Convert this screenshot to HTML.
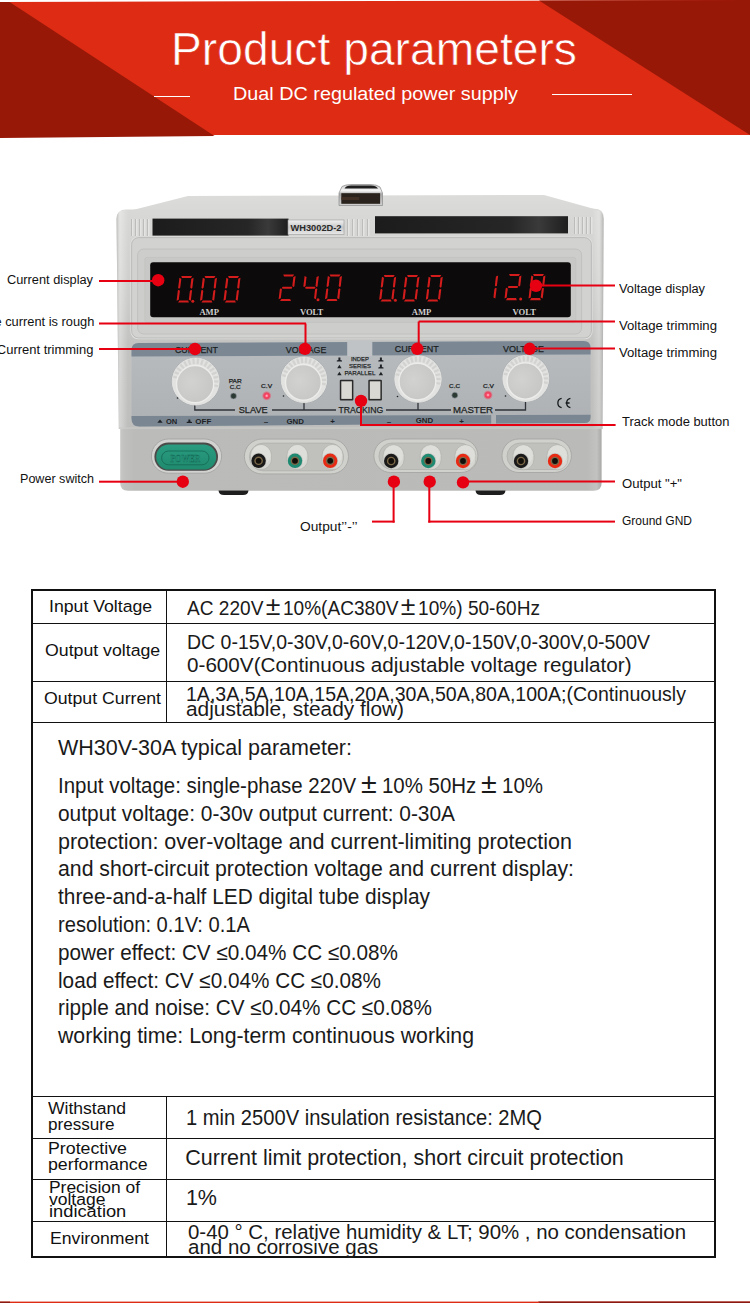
<!DOCTYPE html>
<html><head><meta charset="utf-8">
<style>
html,body{margin:0;padding:0;background:#fff;}
body{width:750px;height:1303px;position:relative;overflow:hidden;font-family:"Liberation Sans",sans-serif;color:#1a1a1a;}
.a{position:absolute;white-space:nowrap;}
.hl{position:absolute;background:#111;height:1px;}
.vl{position:absolute;background:#111;width:1px;}
</style></head>
<body>
<svg class="a" style="left:0;top:0" width="750" height="140" viewBox="0 0 750 140">
  <polygon points="0,2 750,0 750,135 0,135" fill="#dd2b14"/>
  <polygon points="0,2 9.6,2 214.5,136 0,138" fill="#981808"/>
  <polygon points="539,0.5 750,0 750,135" fill="#981808"/>
  <rect x="154" y="96" width="36" height="1" fill="#fff"/>
  <rect x="552" y="94" width="80" height="1" fill="#fff"/>
</svg>
<svg class="a" style="left:0;top:0" width="750" height="560" viewBox="0 0 750 560">
<defs>
  <linearGradient id="gBody" x1="0" y1="210" x2="0" y2="429" gradientUnits="userSpaceOnUse">
    <stop offset="0" stop-color="#d8d8d6"/><stop offset="0.4" stop-color="#cdcdcb"/><stop offset="0.6" stop-color="#c3c4c2"/><stop offset="1" stop-color="#bebfbd"/>
  </linearGradient>
  <linearGradient id="gEdgeL" x1="0" y1="0" x2="1" y2="0">
    <stop offset="0" stop-color="#a8a8a6" stop-opacity="0.6"/><stop offset="0.3" stop-color="#ffffff" stop-opacity="0.35"/><stop offset="1" stop-color="#ffffff" stop-opacity="0"/>
  </linearGradient>
  <linearGradient id="gEdgeR" x1="0" y1="0" x2="1" y2="0">
    <stop offset="0" stop-color="#ffffff" stop-opacity="0"/><stop offset="0.6" stop-color="#ffffff" stop-opacity="0.25"/><stop offset="1" stop-color="#909090" stop-opacity="0.5"/>
  </linearGradient>
  <linearGradient id="gLower" x1="0" y1="0" x2="1" y2="0">
    <stop offset="0" stop-color="#c8c8c6"/><stop offset="0.01" stop-color="#c0c1bf"/><stop offset="0.03" stop-color="#bbbcba"/>
    <stop offset="0.97" stop-color="#babbb9"/><stop offset="0.99" stop-color="#c2c3c1"/><stop offset="1" stop-color="#a8a8a6"/>
  </linearGradient>
  <linearGradient id="gTop" x1="0" y1="0" x2="0" y2="1">
    <stop offset="0" stop-color="#dcdcda"/><stop offset="1" stop-color="#d6d6d4"/>
  </linearGradient>
  <linearGradient id="gStrip" x1="0" y1="0" x2="1" y2="0">
    <stop offset="0" stop-color="#1c1c1c"/><stop offset="0.7" stop-color="#262626"/><stop offset="0.85" stop-color="#3a3a3a"/><stop offset="1" stop-color="#1e1e1e"/>
  </linearGradient>
  <linearGradient id="gLabel" x1="0" y1="0" x2="0" y2="1">
    <stop offset="0" stop-color="#f2f2f2"/><stop offset="0.5" stop-color="#c8c8c8"/><stop offset="1" stop-color="#e8e8e8"/>
  </linearGradient>
  <linearGradient id="gHandle" x1="0" y1="0" x2="0" y2="1">
    <stop offset="0" stop-color="#c8c8c8"/><stop offset="0.3" stop-color="#f6f6f6"/><stop offset="0.45" stop-color="#a8a8a8"/><stop offset="1" stop-color="#d0d0d0"/>
  </linearGradient>
  <linearGradient id="gPanel" x1="0" y1="0" x2="0" y2="1">
    <stop offset="0" stop-color="#b8bcbf"/><stop offset="1" stop-color="#adb1b4"/>
  </linearGradient>
  <radialGradient id="gKnob" cx="0.4" cy="0.45" r="0.65">
    <stop offset="0" stop-color="#d2d3d1"/><stop offset="1" stop-color="#c6c7c5"/>
  </radialGradient>
  <radialGradient id="gLed" cx="0.5" cy="0.5" r="0.5">
    <stop offset="0" stop-color="#ffd0e0"/><stop offset="0.35" stop-color="#ff4060"/><stop offset="0.6" stop-color="#f03050" stop-opacity="0.8"/><stop offset="1" stop-color="#f06070" stop-opacity="0"/>
  </radialGradient>
  <linearGradient id="gGreen" x1="0" y1="0" x2="0" y2="1">
    <stop offset="0" stop-color="#2a9c80"/><stop offset="1" stop-color="#1f8a6e"/>
  </linearGradient>
  <g id="vent">
    <rect x="0" y="0" width="1" height="17" fill="#bcbcba"/><rect x="1" y="0" width="1.5" height="17" fill="#e4e4e2"/>
  </g>
</defs>
<!-- top surface -->
<polygon points="121,213 188,196 544,195 598,210 603,218 117,218" fill="url(#gTop)"/>
<!-- front body -->
<path d="M116.5,219 Q116.5,209.5 126,209.5 L594,208.8 Q603.8,208.8 603.8,218 L602.5,429 L118.8,429 Z" fill="url(#gBody)"/>
<path d="M120.2,428 L601.6,428 L601.6,483 Q601.6,490.8 593.6,490.8 L128,490.8 Q120.2,490.8 120.2,483 Z" fill="url(#gLower)"/>
<path d="M116.5,219 Q116.5,210 125,210 L128,210 L128,429 L118.8,429 Z" fill="url(#gEdgeL)"/>
<path d="M592,210 L595,210 Q603.5,210 603.5,219 L602.5,429 L592,429 Z" fill="url(#gEdgeR)"/>
<!-- vents -->
<g transform="translate(131,219)"><use href="#vent"/><use href="#vent" x="4"/><use href="#vent" x="8"/><use href="#vent" x="12"/><use href="#vent" x="16"/></g>
<g transform="translate(347,219)"><use href="#vent"/><use href="#vent" x="5"/><use href="#vent" x="10"/><use href="#vent" x="15"/><use href="#vent" x="20"/></g>
<g transform="translate(574,217)"><use href="#vent"/><use href="#vent" x="4"/><use href="#vent" x="8"/><use href="#vent" x="12"/><use href="#vent" x="16"/></g>
<!-- black strips -->
<rect x="152.5" y="218.6" width="136" height="17" fill="url(#gStrip)"/>
<rect x="375" y="216.2" width="193" height="17.2" fill="url(#gStrip)"/>
<rect x="288" y="220" width="56" height="14.5" fill="url(#gLabel)" stroke="#9a9a9a" stroke-width="0.6"/>
<text x="316" y="231" text-anchor="middle" font-family="Liberation Sans" font-weight="bold" font-size="9" fill="#2a2a2a" textLength="51" lengthAdjust="spacingAndGlyphs">WH3002D-2</text>
<!-- handle -->
<path d="M342,186.5 Q345,184.5 352,184.5 L370,184.5 Q377,184.5 380,187 L382.5,193 L382.5,205.5 L339,205.5 L339,193 Z" fill="url(#gHandle)" stroke="#8a8a8a" stroke-width="0.7"/>
<path d="M344.5,188.6 Q346,185.6 351,185.6 L371,185.6 Q376,185.6 378,188.6 Z" fill="#1e1e1e"/>
<rect x="341.3" y="193.2" width="38.8" height="10.6" fill="#2a221c"/>
<rect x="341.3" y="197" width="18" height="3" fill="#4a3428" opacity="0.7"/>
<!-- display bezel -->
<rect x="131" y="237" width="461" height="101.6" rx="7" fill="#d2d2d0" stroke="#e0e0de" stroke-width="1.2"/>
<rect x="131.6" y="237.6" width="459.8" height="100.4" rx="7" fill="none" stroke="#b4b4b2" stroke-width="0.8"/>
<rect x="137.6" y="249" width="444" height="85" rx="6" fill="#cdcdcb" stroke="#bdbdbb" stroke-width="0.8"/>
<rect x="144.8" y="257.4" width="431" height="65" rx="2" fill="#c8c8c6" stroke="#c0c0be" stroke-width="0.6"/>
<rect x="150.2" y="262.2" width="420.6" height="55" rx="3" fill="#0c0a0a"/>

<g fill="#d41c1c"><polygon points="181.23,276.00 192.13,276.00 190.83,278.10 182.03,278.10"/><polygon points="193.58,277.65 192.34,288.02 191.21,288.65 190.29,287.60 191.36,278.70"/><polygon points="192.04,290.48 190.80,300.85 188.82,299.80 189.89,290.90 191.07,289.85"/><polygon points="179.35,300.40 188.15,300.40 188.95,302.50 178.05,302.50"/><polygon points="177.84,290.48 178.97,289.85 179.89,290.90 178.82,299.80 176.60,300.85"/><polygon points="179.38,277.65 181.36,278.70 180.29,287.60 179.11,288.65 178.14,288.02"/><polygon points="204.63,276.00 215.53,276.00 214.23,278.10 205.43,278.10"/><polygon points="216.98,277.65 215.74,288.02 214.61,288.65 213.69,287.60 214.76,278.70"/><polygon points="215.44,290.48 214.20,300.85 212.22,299.80 213.29,290.90 214.47,289.85"/><polygon points="202.75,300.40 211.55,300.40 212.35,302.50 201.45,302.50"/><polygon points="201.24,290.48 202.37,289.85 203.29,290.90 202.22,299.80 200.00,300.85"/><polygon points="202.78,277.65 204.76,278.70 203.69,287.60 202.51,288.65 201.54,288.02"/><polygon points="228.13,276.00 239.03,276.00 237.73,278.10 228.93,278.10"/><polygon points="240.48,277.65 239.24,288.02 238.11,288.65 237.19,287.60 238.26,278.70"/><polygon points="238.94,290.48 237.70,300.85 235.72,299.80 236.79,290.90 237.97,289.85"/><polygon points="226.25,300.40 235.05,300.40 235.85,302.50 224.95,302.50"/><polygon points="224.74,290.48 225.87,289.85 226.79,290.90 225.72,299.80 223.50,300.85"/><polygon points="226.28,277.65 228.26,278.70 227.19,287.60 226.01,288.65 225.04,288.02"/><circle cx="192.80" cy="301.20" r="1.5"/></g>
<g fill="#d41c1c"><polygon points="283.24,274.40 294.14,274.40 292.84,276.50 284.04,276.50"/><polygon points="295.59,276.05 294.34,286.47 293.22,287.10 292.29,286.05 293.37,277.10"/><polygon points="281.86,287.70 282.82,286.65 291.62,286.65 292.34,287.70 291.37,288.75 282.57,288.75"/><polygon points="279.85,288.93 280.97,288.30 281.90,289.35 280.82,298.30 278.60,299.35"/><polygon points="281.35,298.90 290.15,298.90 290.95,301.00 280.05,301.00"/><polygon points="304.59,276.05 306.57,277.10 305.49,286.05 304.32,287.10 303.34,286.47"/><polygon points="305.06,287.70 306.02,286.65 314.82,286.65 315.54,287.70 314.57,288.75 305.77,288.75"/><polygon points="318.79,276.05 317.54,286.47 316.42,287.10 315.49,286.05 316.57,277.10"/><polygon points="317.25,288.93 316.00,299.35 314.02,298.30 315.10,289.35 316.27,288.30"/><polygon points="329.64,274.40 340.54,274.40 339.24,276.50 330.44,276.50"/><polygon points="341.99,276.05 340.74,286.47 339.62,287.10 338.69,286.05 339.77,277.10"/><polygon points="340.45,288.93 339.20,299.35 337.22,298.30 338.30,289.35 339.47,288.30"/><polygon points="327.75,298.90 336.55,298.90 337.35,301.00 326.45,301.00"/><polygon points="326.25,288.93 327.37,288.30 328.30,289.35 327.22,298.30 325.00,299.35"/><polygon points="327.79,276.05 329.77,277.10 328.69,286.05 327.52,287.10 326.54,286.47"/><circle cx="318.00" cy="299.70" r="1.5"/></g>
<g fill="#d41c1c"><polygon points="383.83,275.00 394.73,275.00 393.43,277.10 384.63,277.10"/><polygon points="396.18,276.65 394.94,287.02 393.81,287.65 392.89,286.60 393.96,277.70"/><polygon points="394.64,289.48 393.40,299.85 391.42,298.80 392.49,289.90 393.67,288.85"/><polygon points="381.95,299.40 390.75,299.40 391.55,301.50 380.65,301.50"/><polygon points="380.44,289.48 381.57,288.85 382.49,289.90 381.42,298.80 379.20,299.85"/><polygon points="381.98,276.65 383.96,277.70 382.89,286.60 381.71,287.65 380.74,287.02"/><polygon points="407.13,275.00 418.03,275.00 416.73,277.10 407.93,277.10"/><polygon points="419.48,276.65 418.24,287.02 417.11,287.65 416.19,286.60 417.26,277.70"/><polygon points="417.94,289.48 416.70,299.85 414.72,298.80 415.79,289.90 416.97,288.85"/><polygon points="405.25,299.40 414.05,299.40 414.85,301.50 403.95,301.50"/><polygon points="403.74,289.48 404.87,288.85 405.79,289.90 404.72,298.80 402.50,299.85"/><polygon points="405.28,276.65 407.26,277.70 406.19,286.60 405.01,287.65 404.04,287.02"/><polygon points="430.43,275.00 441.33,275.00 440.03,277.10 431.23,277.10"/><polygon points="442.78,276.65 441.54,287.02 440.41,287.65 439.49,286.60 440.56,277.70"/><polygon points="441.24,289.48 440.00,299.85 438.02,298.80 439.09,289.90 440.27,288.85"/><polygon points="428.55,299.40 437.35,299.40 438.15,301.50 427.25,301.50"/><polygon points="427.04,289.48 428.17,288.85 429.09,289.90 428.02,298.80 425.80,299.85"/><polygon points="428.58,276.65 430.56,277.70 429.49,286.60 428.31,287.65 427.34,287.02"/><circle cx="395.40" cy="300.20" r="1.5"/></g>
<g fill="#d41c1c"><polygon points="498.16,275.55 496.93,285.82 495.80,286.45 494.88,285.40 495.93,276.60"/><polygon points="496.63,288.28 495.40,298.55 493.42,297.50 494.48,288.70 495.66,287.65"/><polygon points="509.11,273.90 520.01,273.90 518.70,276.00 509.90,276.00"/><polygon points="521.46,275.55 520.23,285.82 519.10,286.45 518.18,285.40 519.23,276.60"/><polygon points="507.74,287.05 508.70,286.00 517.50,286.00 518.22,287.05 517.25,288.10 508.45,288.10"/><polygon points="505.73,288.28 506.86,287.65 507.78,288.70 506.72,297.50 504.50,298.55"/><polygon points="507.25,298.10 516.05,298.10 516.85,300.20 505.95,300.20"/><polygon points="533.11,273.90 544.01,273.90 542.70,276.00 533.90,276.00"/><polygon points="545.46,275.55 544.23,285.82 543.10,286.45 542.18,285.40 543.23,276.60"/><polygon points="543.93,288.28 542.70,298.55 540.72,297.50 541.78,288.70 542.96,287.65"/><polygon points="531.25,298.10 540.05,298.10 540.85,300.20 529.95,300.20"/><polygon points="529.73,288.28 530.86,287.65 531.78,288.70 530.72,297.50 528.50,298.55"/><polygon points="531.26,275.55 533.23,276.60 532.18,285.40 531.00,286.45 530.03,285.82"/><circle cx="520.70" cy="298.90" r="1.5"/></g>
<text x="209.2" y="314.5" text-anchor="middle" font-family="Liberation Serif" font-weight="bold" font-size="8.6" fill="#cfcfcf">AMP</text>
<text x="311.6" y="314.5" text-anchor="middle" font-family="Liberation Serif" font-weight="bold" font-size="8.6" fill="#cfcfcf">VOLT</text>
<text x="421.5" y="314.5" text-anchor="middle" font-family="Liberation Serif" font-weight="bold" font-size="8.6" fill="#cfcfcf">AMP</text>
<text x="524.2" y="314.5" text-anchor="middle" font-family="Liberation Serif" font-weight="bold" font-size="8.6" fill="#cfcfcf">VOLT</text>
<g>
  <path d="M131.5,350 Q131.5,343 138.5,343 L583.6,341 Q590.6,341 590.6,348 L590.6,417 Q590.6,423 584.6,423 L139.5,426.4 Q131.5,426.4 131.5,418.4 Z" fill="url(#gPanel)"/>
  <path d="M131.5,356.4 L131.5,350 Q131.5,343 138.5,343 L583.6,341 Q590.6,341 590.6,348 L590.6,354.5 Z" fill="#7b8894"/>
  <rect x="347.2" y="340.5" width="25.1" height="15.6" fill="#bfc3c6"/>
  <path d="M131.5,416 L590.6,414.8 L590.6,417 Q590.6,423 584.6,423 L139.5,426.4 Q131.5,426.4 131.5,418.4 Z" fill="#7a8792"/>
  <rect x="491.2" y="414" width="4.8" height="12.5" fill="#aeb2b5"/>
</g>
<rect x="119" y="427.5" width="483" height="1.2" fill="#c9cac8"/>

<text x="196.5" y="353.2" text-anchor="middle" font-family="Liberation Sans" fill="#1c1f22" stroke="#1c1f22" stroke-width="0.25" font-size="9.6" textLength="43" lengthAdjust="spacingAndGlyphs">CURRENT</text>
<text x="306.1" y="353" text-anchor="middle" font-family="Liberation Sans" fill="#1c1f22" stroke="#1c1f22" stroke-width="0.25" font-size="9.6" textLength="40.5" lengthAdjust="spacingAndGlyphs">VOLTAGE</text>
<text x="416.7" y="352.2" text-anchor="middle" font-family="Liberation Sans" fill="#1c1f22" stroke="#1c1f22" stroke-width="0.25" font-size="9.6" textLength="44" lengthAdjust="spacingAndGlyphs">CURRENT</text>
<text x="523.5" y="352" text-anchor="middle" font-family="Liberation Sans" fill="#1c1f22" stroke="#1c1f22" stroke-width="0.25" font-size="9.6" textLength="41" lengthAdjust="spacingAndGlyphs">VOLTAGE</text>
<text x="235.2" y="383" text-anchor="middle" font-family="Liberation Sans" fill="#1c1f22" stroke="#1c1f22" stroke-width="0.25" font-size="5.6" textLength="13" lengthAdjust="spacingAndGlyphs">PAR</text>
<text x="235.2" y="388.6" text-anchor="middle" font-family="Liberation Sans" fill="#1c1f22" stroke="#1c1f22" stroke-width="0.25" font-size="5.6" textLength="11" lengthAdjust="spacingAndGlyphs">C.C</text>
<text x="266.6" y="388.2" text-anchor="middle" font-family="Liberation Sans" fill="#1c1f22" stroke="#1c1f22" stroke-width="0.25" font-size="5.6" textLength="11" lengthAdjust="spacingAndGlyphs">C.V</text>
<text x="454.6" y="388" text-anchor="middle" font-family="Liberation Sans" fill="#1c1f22" stroke="#1c1f22" stroke-width="0.25" font-size="5.6" textLength="11" lengthAdjust="spacingAndGlyphs">C.C</text>
<text x="488.5" y="388" text-anchor="middle" font-family="Liberation Sans" fill="#1c1f22" stroke="#1c1f22" stroke-width="0.25" font-size="5.6" textLength="11" lengthAdjust="spacingAndGlyphs">C.V</text>
<text x="359.9" y="361.2" text-anchor="middle" font-family="Liberation Sans" fill="#1c1f22" stroke="#1c1f22" stroke-width="0.25" font-size="5.8" fill-opacity="0.85" textLength="18" lengthAdjust="spacingAndGlyphs">INDEP</text>
<text x="359.9" y="368.2" text-anchor="middle" font-family="Liberation Sans" fill="#1c1f22" stroke="#1c1f22" stroke-width="0.25" font-size="5.8" fill-opacity="0.85" textLength="22" lengthAdjust="spacingAndGlyphs">SERIES</text>
<text x="359.9" y="375.2" text-anchor="middle" font-family="Liberation Sans" fill="#1c1f22" stroke="#1c1f22" stroke-width="0.25" font-size="5.8" fill-opacity="0.85" textLength="31" lengthAdjust="spacingAndGlyphs">PARALLEL</text>
<text x="253.2" y="412.8" text-anchor="middle" font-family="Liberation Sans" fill="#1c1f22" stroke="#1c1f22" stroke-width="0.25" font-size="9.2" textLength="29" lengthAdjust="spacingAndGlyphs">SLAVE</text>
<text x="360.8" y="412.8" text-anchor="middle" font-family="Liberation Sans" fill="#1c1f22" stroke="#1c1f22" stroke-width="0.25" font-size="9.2" textLength="44.8" lengthAdjust="spacingAndGlyphs">TRACKING</text>
<text x="473" y="412.6" text-anchor="middle" font-family="Liberation Sans" fill="#1c1f22" stroke="#1c1f22" stroke-width="0.25" font-size="9.2" textLength="40" lengthAdjust="spacingAndGlyphs">MASTER</text>
<text x="166" y="423.8" font-family="Liberation Sans" font-weight="bold" fill="#1e2226" font-size="8" textLength="11.3" lengthAdjust="spacingAndGlyphs">ON</text>
<text x="195.3" y="423.8" font-family="Liberation Sans" font-weight="bold" fill="#1e2226" font-size="8" textLength="16" lengthAdjust="spacingAndGlyphs">OFF</text>
<polygon points="157.3,422.8 160,419.6 162.7,422.8" fill="#1e2226"/>
<path d="M186.7,423 L192,423 L192,422 L190.3,421.4 L190.3,419.4 L188.4,419.4 L188.4,421.4 L186.7,422 Z" fill="#1e2226"/>
<text x="266" y="423.5" text-anchor="middle" font-family="Liberation Sans" font-weight="bold" fill="#1e2226" font-size="8" >–</text>
<text x="295.2" y="424" text-anchor="middle" font-family="Liberation Sans" font-weight="bold" fill="#1e2226" font-size="7.2" textLength="17.5" lengthAdjust="spacingAndGlyphs">GND</text>
<text x="332.5" y="424" text-anchor="middle" font-family="Liberation Sans" font-weight="bold" fill="#1e2226" font-size="8">+</text>
<text x="389" y="423.5" text-anchor="middle" font-family="Liberation Sans" font-weight="bold" fill="#1e2226" font-size="8">–</text>
<text x="424.5" y="423.4" text-anchor="middle" font-family="Liberation Sans" font-weight="bold" fill="#1e2226" font-size="7.2" textLength="17.5" lengthAdjust="spacingAndGlyphs">GND</text>
<text x="461.5" y="423.5" text-anchor="middle" font-family="Liberation Sans" font-weight="bold" fill="#1e2226" font-size="8">+</text>
<path d="M336.79999999999995,361.5 L342.0,361.5 L342.0,360.5 L340.4,360.0 L340.4,357.5 L338.4,357.5 L338.4,360.0 L336.79999999999995,360.5 Z" fill="#1e2226"/>
<polygon points="337.2,368.3 339.4,364.7 341.59999999999997,368.3" fill="#1e2226"/>
<polygon points="337.2,375.3 339.4,371.7 341.59999999999997,375.3" fill="#1e2226"/>
<path d="M378.29999999999995,361.5 L383.5,361.5 L383.5,360.5 L381.9,360.0 L381.9,357.5 L379.9,357.5 L379.9,360.0 L378.29999999999995,360.5 Z" fill="#1e2226"/>
<path d="M378.29999999999995,368.5 L383.5,368.5 L383.5,367.5 L381.9,367.0 L381.9,364.5 L379.9,364.5 L379.9,367.0 L378.29999999999995,367.5 Z" fill="#1e2226"/>
<polygon points="378.7,375.3 380.9,371.7 383.09999999999997,375.3" fill="#1e2226"/>
<path d="M194.8,404 L194.8,410 L235,410" stroke="#30343a" stroke-width="1.3" fill="none"/>
<path d="M272,410 L336,410 M304,402 L304,410" stroke="#30343a" stroke-width="1.3" fill="none"/>
<path d="M386,410 L451,410 M418,402 L418,410" stroke="#30343a" stroke-width="1.3" fill="none"/>
<path d="M495,410 L525.5,410 L525.5,402" stroke="#30343a" stroke-width="1.3" fill="none"/>
<circle cx="195.7" cy="381.5" r="24.2" fill="#8e9498" opacity="0.5"/><circle cx="195.7" cy="381.5" r="23.5" fill="#e2e2e0" stroke="#e8e8e6" stroke-width="0.8"/><line x1="218.60" y1="381.50" x2="213.20" y2="381.50" stroke="#c0c1bf" stroke-width="2.2" opacity="0.45"/><line x1="218.10" y1="386.26" x2="212.82" y2="385.14" stroke="#c0c1bf" stroke-width="2.2" opacity="0.45"/><line x1="173.30" y1="376.74" x2="178.58" y2="377.86" stroke="#c0c1bf" stroke-width="2.2" opacity="0.45"/><line x1="174.78" y1="372.19" x2="179.71" y2="374.38" stroke="#c0c1bf" stroke-width="2.2" opacity="0.45"/><line x1="177.17" y1="368.04" x2="181.54" y2="371.21" stroke="#c0c1bf" stroke-width="2.2" opacity="0.45"/><line x1="180.38" y1="364.48" x2="183.99" y2="368.49" stroke="#c0c1bf" stroke-width="2.2" opacity="0.45"/><line x1="184.25" y1="361.67" x2="186.95" y2="366.34" stroke="#c0c1bf" stroke-width="2.2" opacity="0.45"/><line x1="188.62" y1="359.72" x2="190.29" y2="364.86" stroke="#c0c1bf" stroke-width="2.2" opacity="0.45"/><line x1="193.31" y1="358.73" x2="193.87" y2="364.10" stroke="#c0c1bf" stroke-width="2.2" opacity="0.45"/><line x1="198.09" y1="358.73" x2="197.53" y2="364.10" stroke="#c0c1bf" stroke-width="2.2" opacity="0.45"/><line x1="202.78" y1="359.72" x2="201.11" y2="364.86" stroke="#c0c1bf" stroke-width="2.2" opacity="0.45"/><line x1="207.15" y1="361.67" x2="204.45" y2="366.34" stroke="#c0c1bf" stroke-width="2.2" opacity="0.45"/><line x1="211.02" y1="364.48" x2="207.41" y2="368.49" stroke="#c0c1bf" stroke-width="2.2" opacity="0.45"/><line x1="214.23" y1="368.04" x2="209.86" y2="371.21" stroke="#c0c1bf" stroke-width="2.2" opacity="0.45"/><line x1="216.62" y1="372.19" x2="211.69" y2="374.38" stroke="#c0c1bf" stroke-width="2.2" opacity="0.45"/><line x1="218.10" y1="376.74" x2="212.82" y2="377.86" stroke="#c0c1bf" stroke-width="2.2" opacity="0.45"/><circle cx="195.1" cy="384.1" r="18.6" fill="url(#gKnob)" stroke="#ececea" stroke-width="1.4"/>
<circle cx="304" cy="379.8" r="23.5" fill="#8e9498" opacity="0.5"/><circle cx="304" cy="379.8" r="22.8" fill="#e2e2e0" stroke="#e8e8e6" stroke-width="0.8"/><line x1="326.20" y1="379.80" x2="320.80" y2="379.80" stroke="#c0c1bf" stroke-width="2.2" opacity="0.45"/><line x1="325.71" y1="384.42" x2="320.43" y2="383.29" stroke="#c0c1bf" stroke-width="2.2" opacity="0.45"/><line x1="282.29" y1="375.18" x2="287.57" y2="376.31" stroke="#c0c1bf" stroke-width="2.2" opacity="0.45"/><line x1="283.72" y1="370.77" x2="288.65" y2="372.97" stroke="#c0c1bf" stroke-width="2.2" opacity="0.45"/><line x1="286.04" y1="366.75" x2="290.41" y2="369.93" stroke="#c0c1bf" stroke-width="2.2" opacity="0.45"/><line x1="289.15" y1="363.30" x2="292.76" y2="367.32" stroke="#c0c1bf" stroke-width="2.2" opacity="0.45"/><line x1="292.90" y1="360.57" x2="295.60" y2="365.25" stroke="#c0c1bf" stroke-width="2.2" opacity="0.45"/><line x1="297.14" y1="358.69" x2="298.81" y2="363.82" stroke="#c0c1bf" stroke-width="2.2" opacity="0.45"/><line x1="301.68" y1="357.72" x2="302.24" y2="363.09" stroke="#c0c1bf" stroke-width="2.2" opacity="0.45"/><line x1="306.32" y1="357.72" x2="305.76" y2="363.09" stroke="#c0c1bf" stroke-width="2.2" opacity="0.45"/><line x1="310.86" y1="358.69" x2="309.19" y2="363.82" stroke="#c0c1bf" stroke-width="2.2" opacity="0.45"/><line x1="315.10" y1="360.57" x2="312.40" y2="365.25" stroke="#c0c1bf" stroke-width="2.2" opacity="0.45"/><line x1="318.85" y1="363.30" x2="315.24" y2="367.32" stroke="#c0c1bf" stroke-width="2.2" opacity="0.45"/><line x1="321.96" y1="366.75" x2="317.59" y2="369.93" stroke="#c0c1bf" stroke-width="2.2" opacity="0.45"/><line x1="324.28" y1="370.77" x2="319.35" y2="372.97" stroke="#c0c1bf" stroke-width="2.2" opacity="0.45"/><line x1="325.71" y1="375.18" x2="320.43" y2="376.31" stroke="#c0c1bf" stroke-width="2.2" opacity="0.45"/><circle cx="303.4" cy="382.40000000000003" r="17.9" fill="url(#gKnob)" stroke="#ececea" stroke-width="1.4"/>
<circle cx="418" cy="379" r="24.0" fill="#8e9498" opacity="0.5"/><circle cx="418" cy="379" r="23.3" fill="#e2e2e0" stroke="#e8e8e6" stroke-width="0.8"/><line x1="440.70" y1="379.00" x2="435.30" y2="379.00" stroke="#c0c1bf" stroke-width="2.2" opacity="0.45"/><line x1="440.20" y1="383.72" x2="434.92" y2="382.60" stroke="#c0c1bf" stroke-width="2.2" opacity="0.45"/><line x1="395.80" y1="374.28" x2="401.08" y2="375.40" stroke="#c0c1bf" stroke-width="2.2" opacity="0.45"/><line x1="397.26" y1="369.77" x2="402.20" y2="371.96" stroke="#c0c1bf" stroke-width="2.2" opacity="0.45"/><line x1="399.64" y1="365.66" x2="404.00" y2="368.83" stroke="#c0c1bf" stroke-width="2.2" opacity="0.45"/><line x1="402.81" y1="362.13" x2="406.42" y2="366.14" stroke="#c0c1bf" stroke-width="2.2" opacity="0.45"/><line x1="406.65" y1="359.34" x2="409.35" y2="364.02" stroke="#c0c1bf" stroke-width="2.2" opacity="0.45"/><line x1="410.99" y1="357.41" x2="412.65" y2="362.55" stroke="#c0c1bf" stroke-width="2.2" opacity="0.45"/><line x1="415.63" y1="356.42" x2="416.19" y2="361.79" stroke="#c0c1bf" stroke-width="2.2" opacity="0.45"/><line x1="420.37" y1="356.42" x2="419.81" y2="361.79" stroke="#c0c1bf" stroke-width="2.2" opacity="0.45"/><line x1="425.01" y1="357.41" x2="423.35" y2="362.55" stroke="#c0c1bf" stroke-width="2.2" opacity="0.45"/><line x1="429.35" y1="359.34" x2="426.65" y2="364.02" stroke="#c0c1bf" stroke-width="2.2" opacity="0.45"/><line x1="433.19" y1="362.13" x2="429.58" y2="366.14" stroke="#c0c1bf" stroke-width="2.2" opacity="0.45"/><line x1="436.36" y1="365.66" x2="432.00" y2="368.83" stroke="#c0c1bf" stroke-width="2.2" opacity="0.45"/><line x1="438.74" y1="369.77" x2="433.80" y2="371.96" stroke="#c0c1bf" stroke-width="2.2" opacity="0.45"/><line x1="440.20" y1="374.28" x2="434.92" y2="375.40" stroke="#c0c1bf" stroke-width="2.2" opacity="0.45"/><circle cx="417.4" cy="381.6" r="18.4" fill="url(#gKnob)" stroke="#ececea" stroke-width="1.4"/>
<circle cx="525.8" cy="378.4" r="23.7" fill="#8e9498" opacity="0.5"/><circle cx="525.8" cy="378.4" r="23" fill="#e2e2e0" stroke="#e8e8e6" stroke-width="0.8"/><line x1="548.20" y1="378.40" x2="542.80" y2="378.40" stroke="#c0c1bf" stroke-width="2.2" opacity="0.45"/><line x1="547.71" y1="383.06" x2="542.43" y2="381.93" stroke="#c0c1bf" stroke-width="2.2" opacity="0.45"/><line x1="503.89" y1="373.74" x2="509.17" y2="374.87" stroke="#c0c1bf" stroke-width="2.2" opacity="0.45"/><line x1="505.34" y1="369.29" x2="510.27" y2="371.49" stroke="#c0c1bf" stroke-width="2.2" opacity="0.45"/><line x1="507.68" y1="365.23" x2="512.05" y2="368.41" stroke="#c0c1bf" stroke-width="2.2" opacity="0.45"/><line x1="510.81" y1="361.75" x2="514.42" y2="365.77" stroke="#c0c1bf" stroke-width="2.2" opacity="0.45"/><line x1="514.60" y1="359.00" x2="517.30" y2="363.68" stroke="#c0c1bf" stroke-width="2.2" opacity="0.45"/><line x1="518.88" y1="357.10" x2="520.55" y2="362.23" stroke="#c0c1bf" stroke-width="2.2" opacity="0.45"/><line x1="523.46" y1="356.12" x2="524.02" y2="361.49" stroke="#c0c1bf" stroke-width="2.2" opacity="0.45"/><line x1="528.14" y1="356.12" x2="527.58" y2="361.49" stroke="#c0c1bf" stroke-width="2.2" opacity="0.45"/><line x1="532.72" y1="357.10" x2="531.05" y2="362.23" stroke="#c0c1bf" stroke-width="2.2" opacity="0.45"/><line x1="537.00" y1="359.00" x2="534.30" y2="363.68" stroke="#c0c1bf" stroke-width="2.2" opacity="0.45"/><line x1="540.79" y1="361.75" x2="537.18" y2="365.77" stroke="#c0c1bf" stroke-width="2.2" opacity="0.45"/><line x1="543.92" y1="365.23" x2="539.55" y2="368.41" stroke="#c0c1bf" stroke-width="2.2" opacity="0.45"/><line x1="546.26" y1="369.29" x2="541.33" y2="371.49" stroke="#c0c1bf" stroke-width="2.2" opacity="0.45"/><line x1="547.71" y1="373.74" x2="542.43" y2="374.87" stroke="#c0c1bf" stroke-width="2.2" opacity="0.45"/><circle cx="525.1999999999999" cy="381.0" r="18.1" fill="url(#gKnob)" stroke="#ececea" stroke-width="1.4"/>
<circle cx="177.5" cy="398" r="0.8" fill="#222"/>
<circle cx="283.5" cy="396" r="0.8" fill="#222"/>
<circle cx="397.5" cy="396.5" r="0.8" fill="#222"/>
<circle cx="505.5" cy="396" r="0.8" fill="#222"/>
<circle cx="233.5" cy="396" r="3" fill="#2c3a34" stroke="#9aa0a6" stroke-width="0.6"/>
<circle cx="454.8" cy="395.2" r="3" fill="#2c3a34" stroke="#9aa0a6" stroke-width="0.6"/>
<circle cx="266.7" cy="395.8" r="5" fill="url(#gLed)"/>
<circle cx="488" cy="395" r="5" fill="url(#gLed)"/>
<rect x="339.8" y="379.8" width="13.6" height="20.6" rx="1" fill="#2a2a2a"/>
<rect x="341.3" y="381.3" width="10.6" height="17.6" fill="#d9d8d2"/>
<rect x="368.3" y="379.8" width="13.6" height="20.6" rx="1" fill="#2a2a2a"/>
<rect x="369.8" y="381.3" width="10.6" height="17.6" fill="#d9d8d2"/>
<path d="M561.6,398.4 A4.7,4.7 0 0,0 561.6,407.6 M570.4,398.4 A4.7,4.7 0 0,0 570.4,407.6 M565.6,403 L569.6,403" stroke="#15181b" stroke-width="1.3" fill="none"/>
<rect x="151.4" y="439" width="70.2" height="34.2" rx="17.1" fill="#d2d2d0" stroke="#a0a09e" stroke-width="0.8"/>
<rect x="154.4" y="442.6" width="63.6" height="28.2" rx="14.1" fill="#4a4a48"/>
<rect x="156.2" y="444.4" width="60" height="25.2" rx="12.6" fill="url(#gGreen)"/>
<rect x="161.6" y="451" width="47.4" height="13.8" rx="6.9" fill="none" stroke="#17705a" stroke-width="1"/>
<text x="185.3" y="461.8" text-anchor="middle" font-family="Liberation Serif" font-weight="bold" font-size="10.5" fill="#2a9a80" stroke="#136a55" stroke-width="0.5" textLength="29.5" lengthAdjust="spacingAndGlyphs">POWER</text>

<rect x="244.4" y="439.1" width="104.1" height="34.8" rx="17.4" fill="#d0d0cd" stroke="#a2a2a0" stroke-width="0.8"/><rect x="249.4" y="443.1" width="94.1" height="27.8" rx="13.9" fill="#c0c0bc" stroke="#a8a8a5" stroke-width="0.6"/>
<rect x="250.5" y="444.6" width="21" height="25" rx="10.5" fill="#d6d6d2" stroke="#aeaeaa" stroke-width="0.6"/><ellipse cx="261.0" cy="455.1" rx="9.5" ry="10" fill="#dededa"/><circle cx="258.6" cy="460.8" r="8" fill="#c8c8c4"/><circle cx="258.6" cy="460.8" r="7.2" fill="#1a1a1a"/><circle cx="258.6" cy="460.8" r="4.3" fill="#7a6848"/><circle cx="258.6" cy="460.8" r="2.9" fill="#120e0a"/>
<rect x="286.9" y="444.6" width="21" height="25" rx="10.5" fill="#d6d6d2" stroke="#aeaeaa" stroke-width="0.6"/><ellipse cx="297.4" cy="455.1" rx="9.5" ry="10" fill="#dededa"/><circle cx="295" cy="460.8" r="8" fill="#c8c8c4"/><circle cx="295" cy="460.8" r="7.2" fill="#1f8a72"/><circle cx="295" cy="460.8" r="4.3" fill="#7a6848"/><circle cx="295" cy="460.8" r="2.9" fill="#120e0a"/>
<rect x="322.09999999999997" y="444.6" width="21" height="25" rx="10.5" fill="#d6d6d2" stroke="#aeaeaa" stroke-width="0.6"/><ellipse cx="332.59999999999997" cy="455.1" rx="9.5" ry="10" fill="#dededa"/><circle cx="330.2" cy="460.8" r="8" fill="#c8c8c4"/><circle cx="330.2" cy="460.8" r="7.2" fill="#e82a14"/><circle cx="330.2" cy="460.8" r="4.3" fill="#7a6848"/><circle cx="330.2" cy="460.8" r="2.9" fill="#120e0a"/>
<rect x="373.9" y="439" width="104.0" height="33.5" rx="16.8" fill="#d0d0cd" stroke="#a2a2a0" stroke-width="0.8"/><rect x="378.9" y="443" width="94.0" height="26.5" rx="13.2" fill="#c0c0bc" stroke="#a8a8a5" stroke-width="0.6"/>
<rect x="383.09999999999997" y="444.8" width="21" height="25" rx="10.5" fill="#d6d6d2" stroke="#aeaeaa" stroke-width="0.6"/><ellipse cx="393.59999999999997" cy="455.3" rx="9.5" ry="10" fill="#dededa"/><circle cx="391.2" cy="461" r="8" fill="#c8c8c4"/><circle cx="391.2" cy="461" r="7.2" fill="#1a1a1a"/><circle cx="391.2" cy="461" r="4.3" fill="#7a6848"/><circle cx="391.2" cy="461" r="2.9" fill="#120e0a"/>
<rect x="420.2" y="444.8" width="21" height="25" rx="10.5" fill="#d6d6d2" stroke="#aeaeaa" stroke-width="0.6"/><ellipse cx="430.7" cy="455.3" rx="9.5" ry="10" fill="#dededa"/><circle cx="428.3" cy="461" r="8" fill="#c8c8c4"/><circle cx="428.3" cy="461" r="7.2" fill="#1f8a72"/><circle cx="428.3" cy="461" r="4.3" fill="#7a6848"/><circle cx="428.3" cy="461" r="2.9" fill="#120e0a"/>
<rect x="454.9" y="444.8" width="21" height="25" rx="10.5" fill="#d6d6d2" stroke="#aeaeaa" stroke-width="0.6"/><ellipse cx="465.4" cy="455.3" rx="9.5" ry="10" fill="#dededa"/><circle cx="463" cy="461" r="8" fill="#c8c8c4"/><circle cx="463" cy="461" r="7.2" fill="#e82a14"/><circle cx="463" cy="461" r="4.3" fill="#7a6848"/><circle cx="463" cy="461" r="2.9" fill="#120e0a"/>
<rect x="502" y="439" width="69.4" height="33.5" rx="16.8" fill="#d0d0cd" stroke="#a2a2a0" stroke-width="0.8"/><rect x="507" y="443" width="59.4" height="26.5" rx="13.2" fill="#c0c0bc" stroke="#a8a8a5" stroke-width="0.6"/>
<rect x="512.9" y="444.8" width="21" height="25" rx="10.5" fill="#d6d6d2" stroke="#aeaeaa" stroke-width="0.6"/><ellipse cx="523.4" cy="455.3" rx="9.5" ry="10" fill="#dededa"/><circle cx="521" cy="461" r="8" fill="#c8c8c4"/><circle cx="521" cy="461" r="7.2" fill="#1a1a1a"/><circle cx="521" cy="461" r="4.3" fill="#7a6848"/><circle cx="521" cy="461" r="2.9" fill="#120e0a"/>
<rect x="546.9" y="444.8" width="21" height="25" rx="10.5" fill="#d6d6d2" stroke="#aeaeaa" stroke-width="0.6"/><ellipse cx="557.4" cy="455.3" rx="9.5" ry="10" fill="#dededa"/><circle cx="555" cy="461" r="8" fill="#c8c8c4"/><circle cx="555" cy="461" r="7.2" fill="#e82a14"/><circle cx="555" cy="461" r="4.3" fill="#7a6848"/><circle cx="555" cy="461" r="2.9" fill="#120e0a"/>
<path d="M218.5,490.5 L248.5,490.5 Q248,495 243,495 L224,495 Q219,495 218.5,490.5 Z" fill="#1e1e1e"/><path d="M475.5,490.5 L505.5,490.5 Q505,495 500,495 L481,495 Q476,495 475.5,490.5 Z" fill="#1e1e1e"/>
<rect x="99" y="280" width="59" height="2" fill="#e60012"/>
<circle cx="158.2" cy="280.2" r="6.2" fill="#e60012"/>
<rect x="536" y="284.5" width="79" height="2" fill="#e60012"/>
<circle cx="536" cy="285.8" r="6.2" fill="#e60012"/>
<rect x="99" y="322.5" width="207" height="2" fill="#e60012"/>
<rect x="304.5" y="323.5" width="2" height="25.5" fill="#e60012"/>
<circle cx="305" cy="348.9" r="6.2" fill="#e60012"/>
<rect x="99" y="348" width="96" height="2" fill="#e60012"/>
<circle cx="195" cy="349" r="6.2" fill="#e60012"/>
<rect x="418.7" y="320.5" width="196.3" height="2" fill="#e60012"/>
<rect x="417.7" y="321.5" width="2" height="27.5" fill="#e60012"/>
<circle cx="417.3" cy="348.8" r="6.2" fill="#e60012"/>
<rect x="529.6" y="347.5" width="85.39999999999998" height="2" fill="#e60012"/>
<circle cx="529.6" cy="348.8" r="6.2" fill="#e60012"/>
<rect x="360" y="401" width="2" height="24" fill="#e60012"/>
<rect x="360" y="424" width="255.60000000000002" height="2" fill="#e60012"/>
<circle cx="361" cy="400.9" r="6.2" fill="#e60012"/>
<rect x="99" y="480.7" width="84" height="2" fill="#e60012"/>
<circle cx="182.8" cy="481.7" r="6.2" fill="#e60012"/>
<rect x="392.6" y="482" width="2" height="40.60000000000002" fill="#e60012"/>
<rect x="372" y="520.6" width="22.600000000000023" height="2" fill="#e60012"/>
<circle cx="393.9" cy="481.7" r="6.2" fill="#e60012"/>
<rect x="428.3" y="482" width="2" height="40.60000000000002" fill="#e60012"/>
<rect x="428.3" y="520.6" width="186.7" height="2" fill="#e60012"/>
<circle cx="429.7" cy="481.7" r="6.2" fill="#e60012"/>
<rect x="463" y="480.5" width="152" height="2" fill="#e60012"/>
<circle cx="463" cy="482.4" r="6.2" fill="#e60012"/>
</svg>
<div class="a" style="left:31px;top:589px;width:685px;height:669px;box-sizing:border-box;border:2px solid #111;"></div>
<div class="hl" style="left:33px;top:623px;width:681px;"></div>
<div class="hl" style="left:33px;top:681px;width:681px;"></div>
<div class="hl" style="left:33px;top:722px;width:681px;"></div>
<div class="hl" style="left:33px;top:1096px;width:681px;"></div>
<div class="hl" style="left:33px;top:1138px;width:681px;"></div>
<div class="hl" style="left:33px;top:1179px;width:681px;"></div>
<div class="hl" style="left:33px;top:1221px;width:681px;"></div>
<div class="vl" style="left:166px;top:591px;height:131px;"></div>
<div class="vl" style="left:166px;top:1096px;height:161px;"></div>
<svg class="a" style="left:0;top:1300px" width="750" height="3" viewBox="0 1300 750 3"><rect x="0" y="1301.6" width="750" height="1.4" fill="#dd2b14"/><rect x="0" y="1301.6" width="10" height="1.4" fill="#8a1a10"/><polygon points="538,1301.6 750,1301.6 750,1303 540,1303" fill="#8a1a10"/></svg>
<div id='t0' class='a' style="left:170.80px;transform-origin:left top;top:26.87px;font-size:45.4px;line-height:45.4px;font-family:'Liberation Sans',sans-serif;transform:scaleX(1.0185);color:#fff;-webkit-text-stroke:0.6px #dd2b14;">Product parameters</div>
<div id='t1' class='a' style="left:232.70px;transform-origin:left top;top:85.69px;font-size:17.5px;line-height:17.5px;font-family:'Liberation Sans',sans-serif;transform:scaleX(1.1312);color:#fff;">Dual DC regulated power supply</div>
<div id='t2' class='a' style="left:7.00px;transform-origin:left top;top:274.24px;font-size:12px;line-height:12px;font-family:'Liberation Sans',sans-serif;transform:scaleX(1.0656);color:#111;">Current display</div>
<div id='t3' class='a' style="right:656.00px;transform-origin:right top;top:315.84px;font-size:12px;line-height:12px;font-family:'Liberation Sans',sans-serif;transform:scaleX(1.0700);color:#111;">The current is rough</div>
<div id='t4' class='a' style="right:657.00px;transform-origin:right top;top:343.84px;font-size:12px;line-height:12px;font-family:'Liberation Sans',sans-serif;transform:scaleX(1.0800);color:#111;">Current trimming</div>
<div id='t5' class='a' style="left:20.00px;transform-origin:left top;top:472.84px;font-size:12px;line-height:12px;font-family:'Liberation Sans',sans-serif;transform:scaleX(1.0469);color:#111;">Power switch</div>
<div id='t6' class='a' style="left:619.00px;transform-origin:left top;top:283.44px;font-size:12px;line-height:12px;font-family:'Liberation Sans',sans-serif;transform:scaleX(1.0652);color:#111;">Voltage display</div>
<div id='t7' class='a' style="left:619.00px;transform-origin:left top;top:319.84px;font-size:12px;line-height:12px;font-family:'Liberation Sans',sans-serif;transform:scaleX(1.0965);color:#111;">Voltage trimming</div>
<div id='t8' class='a' style="left:619.00px;transform-origin:left top;top:347.24px;font-size:12px;line-height:12px;font-family:'Liberation Sans',sans-serif;transform:scaleX(1.0965);color:#111;">Voltage trimming</div>
<div id='t9' class='a' style="left:621.60px;transform-origin:left top;top:416.24px;font-size:12px;line-height:12px;font-family:'Liberation Sans',sans-serif;transform:scaleX(1.0782);color:#111;">Track mode button</div>
<div id='t10' class='a' style="left:622.00px;transform-origin:left top;top:478.44px;font-size:12px;line-height:12px;font-family:'Liberation Sans',sans-serif;transform:scaleX(1.0931);color:#111;">Output "+"</div>
<div id='t11' class='a' style="left:622.00px;transform-origin:left top;top:515.44px;font-size:12px;line-height:12px;font-family:'Liberation Sans',sans-serif;color:#111;">Ground GND</div>
<div id='t12' class='a' style="left:299.60px;transform-origin:left top;top:520.82px;font-size:12.5px;line-height:12.5px;font-family:'Liberation Sans',sans-serif;transform:scaleX(1.1004);color:#111;">Output’’-’’</div>
<div id='t13' class='a' style="left:48.80px;transform-origin:left top;top:598.78px;font-size:16.8px;line-height:16.8px;font-family:'Liberation Sans',sans-serif;transform:scaleX(1.0532);color:#111;">Input Voltage</div>
<div id='t14' class='a' style="left:45.20px;transform-origin:left top;top:642.58px;font-size:16.8px;line-height:16.8px;font-family:'Liberation Sans',sans-serif;transform:scaleX(1.0554);color:#111;">Output voltage</div>
<div id='t15' class='a' style="left:44.00px;transform-origin:left top;top:691.28px;font-size:16.8px;line-height:16.8px;font-family:'Liberation Sans',sans-serif;transform:scaleX(1.0541);color:#111;">Output Current</div>
<div id='t16' class='a' style="left:187.30px;transform-origin:left top;top:598.35px;font-size:20.5px;line-height:20.5px;font-family:'Liberation Sans',sans-serif;transform:scaleX(0.9306);color:#1a1a1a;">AC 220V<span style='display:inline-block;width:21px;text-align:center;transform:scale(1.4,1.3);transform-origin:50% 80%'>±</span>10%(AC380V<span style='display:inline-block;width:21px;text-align:center;transform:scale(1.4,1.3);transform-origin:50% 80%'>±</span>10%) 50-60Hz</div>
<div id='t17' class='a' style="left:187.00px;transform-origin:left top;top:631.95px;font-size:20.5px;line-height:20.5px;font-family:'Liberation Sans',sans-serif;transform:scaleX(0.9513);color:#1a1a1a;">DC 0-15V,0-30V,0-60V,0-120V,0-150V,0-300V,0-500V</div>
<div id='t18' class='a' style="left:187.00px;transform-origin:left top;top:655.35px;font-size:20.5px;line-height:20.5px;font-family:'Liberation Sans',sans-serif;transform:scaleX(1.0081);color:#1a1a1a;">0-600V(Continuous adjustable voltage regulator)</div>
<div id='t19' class='a' style="left:186.00px;transform-origin:left top;top:683.65px;font-size:20.5px;line-height:20.5px;font-family:'Liberation Sans',sans-serif;transform:scaleX(0.9537);color:#1a1a1a;">1A,3A,5A,10A,15A,20A,30A,50A,80A,100A;(Continuously</div>
<div id='t20' class='a' style="left:186.00px;transform-origin:left top;top:699.35px;font-size:20.5px;line-height:20.5px;font-family:'Liberation Sans',sans-serif;transform:scaleX(1.0176);color:#1a1a1a;">adjustable, steady flow)</div>
<div id='t21' class='a' style="left:58.00px;transform-origin:left top;top:737.80px;font-size:21.5px;line-height:21.5px;font-family:'Liberation Sans',sans-serif;color:#1a1a1a;">WH30V-30A typical parameter:</div>
<div id='t22' class='a' style="left:58.00px;transform-origin:left top;top:775.90px;font-size:21.5px;line-height:21.5px;font-family:'Liberation Sans',sans-serif;transform:scaleX(0.9521);color:#1a1a1a;">Input voltage: single-phase 220V<span style='display:inline-block;width:27px;text-align:center;transform:scale(1.4,1.3);transform-origin:50% 80%'>±</span>10% 50Hz<span style='display:inline-block;width:27px;text-align:center;transform:scale(1.4,1.3);transform-origin:50% 80%'>±</span>10%</div>
<div id='t23' class='a' style="left:58.00px;transform-origin:left top;top:803.70px;font-size:21.5px;line-height:21.5px;font-family:'Liberation Sans',sans-serif;transform:scaleX(0.9712);color:#1a1a1a;">output voltage: 0-30v output current: 0-30A</div>
<div id='t24' class='a' style="left:58.00px;transform-origin:left top;top:831.50px;font-size:21.5px;line-height:21.5px;font-family:'Liberation Sans',sans-serif;color:#1a1a1a;">protection: over-voltage and current-limiting protection</div>
<div id='t25' class='a' style="left:58.00px;transform-origin:left top;top:859.30px;font-size:21.5px;line-height:21.5px;font-family:'Liberation Sans',sans-serif;transform:scaleX(0.9880);color:#1a1a1a;">and short-circuit protection voltage and current display:</div>
<div id='t26' class='a' style="left:58.00px;transform-origin:left top;top:887.10px;font-size:21.5px;line-height:21.5px;font-family:'Liberation Sans',sans-serif;transform:scaleX(0.9697);color:#1a1a1a;">three-and-a-half LED digital tube display</div>
<div id='t27' class='a' style="left:58.00px;transform-origin:left top;top:914.90px;font-size:21.5px;line-height:21.5px;font-family:'Liberation Sans',sans-serif;transform:scaleX(0.9376);color:#1a1a1a;">resolution: 0.1V: 0.1A</div>
<div id='t28' class='a' style="left:58.00px;transform-origin:left top;top:942.70px;font-size:21.5px;line-height:21.5px;font-family:'Liberation Sans',sans-serif;transform:scaleX(0.9630);color:#1a1a1a;">power effect: CV ≤0.04% CC ≤0.08%</div>
<div id='t29' class='a' style="left:58.00px;transform-origin:left top;top:970.50px;font-size:21.5px;line-height:21.5px;font-family:'Liberation Sans',sans-serif;transform:scaleX(0.9638);color:#1a1a1a;">load effect: CV ≤0.04% CC ≤0.08%</div>
<div id='t30' class='a' style="left:58.00px;transform-origin:left top;top:998.30px;font-size:21.5px;line-height:21.5px;font-family:'Liberation Sans',sans-serif;transform:scaleX(0.9636);color:#1a1a1a;">ripple and noise: CV ≤0.04% CC ≤0.08%</div>
<div id='t31' class='a' style="left:58.00px;transform-origin:left top;top:1026.10px;font-size:21.5px;line-height:21.5px;font-family:'Liberation Sans',sans-serif;transform:scaleX(0.9890);color:#1a1a1a;">working time: Long-term continuous working</div>
<div id='t32' class='a' style="left:47.60px;transform-origin:left top;top:1101.26px;font-size:16px;line-height:16px;font-family:'Liberation Sans',sans-serif;transform:scaleX(1.0964);color:#111;">Withstand</div>
<div id='t33' class='a' style="left:47.60px;transform-origin:left top;top:1116.86px;font-size:16px;line-height:16px;font-family:'Liberation Sans',sans-serif;transform:scaleX(1.0683);color:#111;">pressure</div>
<div id='t34' class='a' style="left:47.60px;transform-origin:left top;top:1141.46px;font-size:16px;line-height:16px;font-family:'Liberation Sans',sans-serif;transform:scaleX(1.1105);color:#111;">Protective</div>
<div id='t35' class='a' style="left:47.60px;transform-origin:left top;top:1157.16px;font-size:16px;line-height:16px;font-family:'Liberation Sans',sans-serif;transform:scaleX(1.1088);color:#111;">performance</div>
<div id='t36' class='a' style="left:48.50px;transform-origin:left top;top:1179.96px;font-size:16px;line-height:16px;font-family:'Liberation Sans',sans-serif;transform:scaleX(1.0886);color:#111;">Precision of</div>
<div id='t37' class='a' style="left:48.50px;transform-origin:left top;top:1191.96px;font-size:16px;line-height:16px;font-family:'Liberation Sans',sans-serif;transform:scaleX(1.0932);color:#111;">voltage</div>
<div id='t38' class='a' style="left:48.50px;transform-origin:left top;top:1203.96px;font-size:16px;line-height:16px;font-family:'Liberation Sans',sans-serif;transform:scaleX(1.1433);color:#111;">indication</div>
<div id='t39' class='a' style="left:50.00px;transform-origin:left top;top:1230.78px;font-size:16.8px;line-height:16.8px;font-family:'Liberation Sans',sans-serif;transform:scaleX(1.0507);color:#111;">Environment</div>
<div id='t40' class='a' style="left:185.90px;transform-origin:left top;top:1108.30px;font-size:21.5px;line-height:21.5px;font-family:'Liberation Sans',sans-serif;transform:scaleX(0.9368);color:#1a1a1a;">1 min 2500V insulation resistance: 2MQ</div>
<div id='t41' class='a' style="left:185.30px;transform-origin:left top;top:1148.00px;font-size:21.5px;line-height:21.5px;font-family:'Liberation Sans',sans-serif;color:#1a1a1a;">Current limit protection, short circuit protection</div>
<div id='t42' class='a' style="left:185.90px;transform-origin:left top;top:1187.50px;font-size:21.5px;line-height:21.5px;font-family:'Liberation Sans',sans-serif;color:#1a1a1a;">1%</div>
<div id='t43' class='a' style="left:188.00px;transform-origin:left top;top:1221.65px;font-size:20.5px;line-height:20.5px;font-family:'Liberation Sans',sans-serif;transform:scaleX(0.9958);color:#1a1a1a;">0-40 ° C, relative humidity &amp; LT; 90% , no condensation</div>
<div id='t44' class='a' style="left:188.00px;transform-origin:left top;top:1237.15px;font-size:20.5px;line-height:20.5px;font-family:'Liberation Sans',sans-serif;color:#1a1a1a;">and no corrosive gas</div>
</body></html>
